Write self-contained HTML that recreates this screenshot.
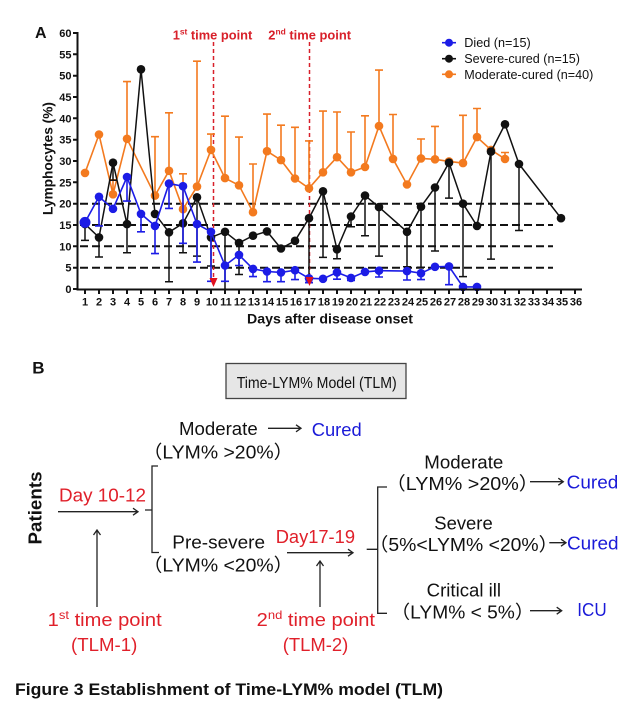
<!DOCTYPE html>
<html><head><meta charset="utf-8"><style>
html,body{margin:0;padding:0;background:#fff;}
svg{display:block;}
text{font-family:"Liberation Sans","Noto Sans CJK SC",sans-serif;}
</style></head><body>
<svg width="640" height="714" viewBox="0 0 640 714" xmlns="http://www.w3.org/2000/svg">
<rect width="640" height="714" fill="#fff"/>
<!-- Panel A -->
<text x="35" y="38" font-size="16" font-weight="bold" fill="#111">A</text>
<!-- dashed reference lines -->
<g stroke="#111" stroke-width="2" stroke-dasharray="8 4" fill="none">
<line x1="80" y1="203.7" x2="553" y2="203.7"/>
<line x1="80" y1="225" x2="553" y2="225"/>
<line x1="80" y1="246.3" x2="553" y2="246.3"/>
<line x1="80" y1="267.7" x2="553" y2="267.7"/>
</g>
<!-- red vertical lines -->
<g stroke="#d8202a" stroke-width="1.5" stroke-dasharray="4 3">
<line x1="213.5" y1="42" x2="213.5" y2="279"/>
<line x1="309.5" y1="42" x2="309.5" y2="278"/>
</g>
<text x="172.7" y="39.5" font-size="13" font-weight="bold" fill="#d8202a" textLength="79.6" lengthAdjust="spacingAndGlyphs">1<tspan dy="-5" font-size="8.5">st</tspan><tspan dy="5"> time point</tspan></text>
<text x="268.3" y="39.5" font-size="13" font-weight="bold" fill="#d8202a" textLength="82.7" lengthAdjust="spacingAndGlyphs">2<tspan dy="-5" font-size="8.5">nd</tspan><tspan dy="5"> time point</tspan></text>

<!-- Orange series -->
<g stroke="#f37a1f" stroke-width="1.6" fill="none">
<polyline points="85,172.9 99,134.5 113,194.3 127,138.8 155,195.6 169,170.8 183,209.2 197,186.6 211,149.9 225,178.1 239,185.3 253,212.2 267,151.2 281,160.1 295,178.5 309,188.3 323,172.3 337,157.2 351,172.3 365,167 379,126 393,158.9 407,184.5 421,158.4 435,159.3 449,161.4 463,163.1 477,137.1 491,149.9 505,158.9"/>
<path d="M113 179.8V194.3M109 179.8H117
M127 81.6V138.8M123 81.6H131
M155 136.7V195.6M151 136.7H159
M169 112.8V170.8M165 112.8H173
M183 173.8V209.2M179 173.8H187
M197 61.2V186.6M193 61.2H201
M211 134.1V149.9M207 134.1H215
M225 116.2V178.1M221 116.2H229
M239 137.1V185.3M235 137.1H243
M253 164V212.2M249 164H257
M267 114.1V151.2M263 114.1H271
M281 125.2V160.1M277 125.2H285
M295 127.3V178.5M291 127.3H299
M309 140.9V188.3M305 140.9H313
M323 111.1V172.3M319 111.1H327
M337 112V157.2M333 112H341
M351 132V172.3M347 132H355
M365 115.8V167M361 115.8H369
M379 70.1V126M375 70.1H383
M393 114.5V158.9M389 114.5H397
M421 139V158.4M417 139H425
M435 126.4V159.3M431 126.4H439
M463 115.3V163.1M459 115.3H467
M477 108.5V137.1M473 108.5H481
M505 152.5V158.9M501 152.5H509"/>
</g>
<g fill="#f37a1f">
<circle cx="85" cy="172.9" r="4.3"/><circle cx="99" cy="134.5" r="4.3"/><circle cx="113" cy="194.3" r="4.3"/><circle cx="127" cy="138.8" r="4.3"/><circle cx="155" cy="195.6" r="4.3"/><circle cx="169" cy="170.8" r="4.3"/><circle cx="183" cy="209.2" r="4.3"/><circle cx="197" cy="186.6" r="4.3"/><circle cx="211" cy="149.9" r="4.3"/><circle cx="225" cy="178.1" r="4.3"/><circle cx="239" cy="185.3" r="4.3"/><circle cx="253" cy="212.2" r="4.3"/><circle cx="267" cy="151.2" r="4.3"/><circle cx="281" cy="160.1" r="4.3"/><circle cx="295" cy="178.5" r="4.3"/><circle cx="309" cy="188.3" r="4.3"/><circle cx="323" cy="172.3" r="4.3"/><circle cx="337" cy="157.2" r="4.3"/><circle cx="351" cy="172.3" r="4.3"/><circle cx="365" cy="167" r="4.3"/><circle cx="379" cy="126" r="4.3"/><circle cx="393" cy="158.9" r="4.3"/><circle cx="407" cy="184.5" r="4.3"/><circle cx="421" cy="158.4" r="4.3"/><circle cx="435" cy="159.3" r="4.3"/><circle cx="449" cy="161.4" r="4.3"/><circle cx="463" cy="163.1" r="4.3"/><circle cx="477" cy="137.1" r="4.3"/><circle cx="491" cy="149.9" r="4.3"/><circle cx="505" cy="158.9" r="4.3"/>
</g>

<!-- Black series -->
<g stroke="#111" stroke-width="1.5" fill="none">
<polyline points="85,224.1 99,237.4 113,162.7 127,224.1 141,69.3 155,213.9 169,232.3 183,223.3 197,197.3 211,237.4 225,231.8 239,242.9 253,235.7 267,231.4 281,248.5 295,240.8 309,218.2 323,191.3 337,249.3 351,216.5 365,195.6 379,207.1 407,231.8 421,206.7 435,187.5 449,162.7 463,203.7 477,225.9 491,151.6 505,124.3 519,164 561,218.2"/>
<path d="M85 224.1V240.4M81 240.4H89
M99 237.4V257M95 257H103
M113 162.7V180.2M109 180.2H117
M127 224.1V252.7M123 252.7H131
M169 232.3V281.7M165 281.7H173
M183 223.3V252.7M179 252.7H187
M197 197.3V256.1M193 256.1H201
M211 237.4V266M207 266H215
M225 231.8V289
M239 242.9V274.5M235 274.5H243
M309 218.2V282.6M305 282.6H313
M323 191.3V257.4M319 257.4H327
M337 249.3V258.7M333 258.7H341
M351 216.5V226.7M347 226.7H355
M365 195.6V235.7M361 235.7H369
M379 207.1V256.1M375 256.1H383
M407 231.8V266.8M403 266.8H411
M421 206.7V267.2M417 267.2H425
M435 187.5V251M431 251H439
M449 162.7V198.1M445 198.1H453
M463 203.7V276.6M459 276.6H467
M491 151.6V259.1M487 259.1H495
M519 164V230.5M515 230.5H523"/>
</g>
<g fill="#111">
<circle cx="85" cy="224.1" r="4.3"/><circle cx="99" cy="237.4" r="4.3"/><circle cx="113" cy="162.7" r="4.3"/><circle cx="127" cy="224.1" r="4.3"/><circle cx="141" cy="69.3" r="4.3"/><circle cx="155" cy="213.9" r="4.3"/><circle cx="169" cy="232.3" r="4.3"/><circle cx="183" cy="223.3" r="4.3"/><circle cx="197" cy="197.3" r="4.3"/><circle cx="211" cy="237.4" r="4.3"/><circle cx="225" cy="231.8" r="4.3"/><circle cx="239" cy="242.9" r="4.3"/><circle cx="253" cy="235.7" r="4.3"/><circle cx="267" cy="231.4" r="4.3"/><circle cx="281" cy="248.5" r="4.3"/><circle cx="295" cy="240.8" r="4.3"/><circle cx="309" cy="218.2" r="4.3"/><circle cx="323" cy="191.3" r="4.3"/><circle cx="337" cy="249.3" r="4.3"/><circle cx="351" cy="216.5" r="4.3"/><circle cx="365" cy="195.6" r="4.3"/><circle cx="379" cy="207.1" r="4.3"/><circle cx="407" cy="231.8" r="4.3"/><circle cx="421" cy="206.7" r="4.3"/><circle cx="435" cy="187.5" r="4.3"/><circle cx="449" cy="162.7" r="4.3"/><circle cx="463" cy="203.7" r="4.3"/><circle cx="477" cy="225.9" r="4.3"/><circle cx="491" cy="151.6" r="4.3"/><circle cx="505" cy="124.3" r="4.3"/><circle cx="519" cy="164" r="4.3"/><circle cx="561" cy="218.2" r="4.3"/>
</g>

<!-- Blue series -->
<g stroke="#1c1ce6" stroke-width="1.6" fill="none">
<polyline points="85,222.4 99,196.8 113,208.8 127,177 141,213.9 155,225.9 169,183.6 183,186.2 197,224.1 211,231.8 225,265.5 239,254.9 253,268.9 267,271.5 281,272.4 295,270.2 309,278.3 323,278.8 337,272.4 351,277.9 365,271.9 379,270.7 407,271.1 421,273.2 435,266.8 449,266.4 463,286.9 477,286.9"/>
<path d="M99 196.8V225.9M95 225.9H103
M127 177V201.1M123 201.1H131
M141 213.9V231.8M137 231.8H145
M155 225.9V253.6M151 253.6H159
M169 183.6V208.4M165 208.4H173
M183 186.2V243.3M179 243.3H187
M197 224.1V262.1M193 262.1H201
M211 231.8V281.3M207 281.3H215
M225 265.5V281.3M221 281.3H229
M239 254.9V265.5M235 265.5H243
M253 268.9V276.6M249 276.6H257
M267 271.5V281.7M263 281.7H271
M281 272.4V281.7M277 281.7H285
M295 270.2V279.6M291 279.6H299
M309 278.3V282.6M305 282.6H313
M337 272.4V279.2M333 279.2H341
M351 277.9V280.5M347 280.5H355
M379 270.7V277M375 277H383
M407 271.1V280M403 280H411
M421 273.2V279.6M417 279.6H425
M449 266.4V284.7M445 284.7H453"/>
</g>
<g fill="#1c1ce6">
<circle cx="85" cy="222.4" r="5.5"/><circle cx="99" cy="196.8" r="4.3"/><circle cx="113" cy="208.8" r="4.3"/><circle cx="127" cy="177" r="4.3"/><circle cx="141" cy="213.9" r="4.3"/><circle cx="155" cy="225.9" r="4.3"/><circle cx="169" cy="183.6" r="4.3"/><circle cx="183" cy="186.2" r="4.3"/><circle cx="197" cy="224.1" r="4.3"/><circle cx="211" cy="231.8" r="4.3"/><circle cx="225" cy="265.5" r="4.3"/><circle cx="239" cy="254.9" r="4.3"/><circle cx="253" cy="268.9" r="4.3"/><circle cx="267" cy="271.5" r="4.3"/><circle cx="281" cy="272.4" r="4.3"/><circle cx="295" cy="270.2" r="4.3"/><circle cx="309" cy="278.3" r="4.3"/><circle cx="323" cy="278.8" r="4.3"/><circle cx="337" cy="272.4" r="4.3"/><circle cx="351" cy="277.9" r="4.3"/><circle cx="365" cy="271.9" r="4.3"/><circle cx="379" cy="270.7" r="4.3"/><circle cx="407" cy="271.1" r="4.3"/><circle cx="421" cy="273.2" r="4.3"/><circle cx="435" cy="266.8" r="4.3"/><circle cx="449" cy="266.4" r="4.3"/><circle cx="463" cy="286.9" r="4.3"/><circle cx="477" cy="286.9" r="4.3"/>
</g>
<polygon points="209.5,278 217.5,278 213.5,287" fill="#e0101e"/>
<polygon points="305.5,277 313.5,277 309.5,286" fill="#e0101e"/>

<!-- Axes -->
<g stroke="#111" stroke-width="2" fill="none">
<line x1="77.5" y1="32" x2="77.5" y2="290"/>
<line x1="76.5" y1="289.5" x2="582" y2="289.5"/>
<path d="M73 33H77M73 54.3H77M73 75.7H77M73 97H77M73 118.3H77M73 139.7H77M73 161H77M73 182.3H77M73 203.7H77M73 225H77M73 246.3H77M73 267.7H77M73 289H77"/>
<path d="M85 289V294M99 289V294M113 289V294M127 289V294M141 289V294M155 289V294M169 289V294M183 289V294M197 289V294M211 289V294M225 289V294M239 289V294M253 289V294M267 289V294M281 289V294M295 289V294M309 289V294M323 289V294M337 289V294M351 289V294M365 289V294M379 289V294M393 289V294M407 289V294M421 289V294M435 289V294M449 289V294M463 289V294M477 289V294M491 289V294M505 289V294M519 289V294M533 289V294M547 289V294M561 289V294M575 289V294"/>
</g>
<g font-size="11" font-weight="bold" fill="#111" text-anchor="end">
<text x="71.5" y="37">60</text><text x="71.5" y="58.3">55</text><text x="71.5" y="79.7">50</text><text x="71.5" y="101">45</text><text x="71.5" y="122.3">40</text><text x="71.5" y="143.7">35</text><text x="71.5" y="165">30</text><text x="71.5" y="186.3">25</text><text x="71.5" y="207.7">20</text><text x="71.5" y="229">15</text><text x="71.5" y="250.3">10</text><text x="71.5" y="271.7">5</text><text x="71.5" y="293">0</text>
</g>
<g font-size="11" font-weight="bold" fill="#111" text-anchor="middle">
<text x="85" y="305.7">1</text><text x="99" y="305.7">2</text><text x="113" y="305.7">3</text><text x="127" y="305.7">4</text><text x="141" y="305.7">5</text><text x="155" y="305.7">6</text><text x="169" y="305.7">7</text><text x="183" y="305.7">8</text><text x="197" y="305.7">9</text><text x="212" y="305.7">10</text><text x="226" y="305.7">11</text><text x="240" y="305.7">12</text><text x="254" y="305.7">13</text><text x="268" y="305.7">14</text><text x="282" y="305.7">15</text><text x="296" y="305.7">16</text><text x="310" y="305.7">17</text><text x="324" y="305.7">18</text><text x="338" y="305.7">19</text><text x="352" y="305.7">20</text><text x="366" y="305.7">21</text><text x="380" y="305.7">22</text><text x="394" y="305.7">23</text><text x="408" y="305.7">24</text><text x="422" y="305.7">25</text><text x="436" y="305.7">26</text><text x="450" y="305.7">27</text><text x="464" y="305.7">28</text><text x="478" y="305.7">29</text><text x="492" y="305.7">30</text><text x="506" y="305.7">31</text><text x="520" y="305.7">32</text><text x="534" y="305.7">33</text><text x="548" y="305.7">34</text><text x="562" y="305.7">35</text><text x="576" y="305.7">36</text>
</g>
<text x="247" y="323.3" font-size="14" font-weight="bold" fill="#111" textLength="166" lengthAdjust="spacingAndGlyphs">Days after disease onset</text>
<text transform="translate(52.5,158.5) rotate(-90)" x="0" y="0" text-anchor="middle" font-size="14" font-weight="bold" fill="#111" textLength="113" lengthAdjust="spacingAndGlyphs">Lymphocytes (%)</text>

<!-- Legend -->
<g stroke-width="1.6">
<line x1="442" y1="42.7" x2="456" y2="42.7" stroke="#1c1ce6"/><circle cx="449" cy="42.7" r="4" fill="#1c1ce6"/>
<line x1="442" y1="58.7" x2="456" y2="58.7" stroke="#111"/><circle cx="449" cy="58.7" r="4" fill="#111"/>
<line x1="442" y1="74.3" x2="456" y2="74.3" stroke="#f37a1f"/><circle cx="449" cy="74.3" r="4" fill="#f37a1f"/>
</g>
<g font-size="12.5" fill="#111">
<text x="464.3" y="47.2" textLength="66.4" lengthAdjust="spacingAndGlyphs">Died (n=15)</text>
<text x="464.3" y="63.2" textLength="115.7" lengthAdjust="spacingAndGlyphs">Severe-cured (n=15)</text>
<text x="464.3" y="78.8" textLength="129" lengthAdjust="spacingAndGlyphs">Moderate-cured (n=40)</text>
</g>

<!-- Panel B -->
<text x="32.3" y="373.3" font-size="17" font-weight="bold" fill="#111">B</text>
<rect x="226" y="363.5" width="180" height="35" fill="#e6e6e6" stroke="#444" stroke-width="1.3"/>
<text x="236.7" y="387.8" font-size="16" fill="#111" textLength="160" lengthAdjust="spacingAndGlyphs">Time-LYM% Model (TLM)</text>

<g font-size="18.5" fill="#111">
<text x="179" y="435" textLength="78.7" lengthAdjust="spacingAndGlyphs">Moderate</text>
<text x="143" y="458.3" textLength="150" lengthAdjust="spacingAndGlyphs">（LYM% &gt;20%）</text>
<text x="172.3" y="548.3" textLength="92.7" lengthAdjust="spacingAndGlyphs">Pre-severe</text>
<text x="143" y="571.7" textLength="150" lengthAdjust="spacingAndGlyphs">（LYM% &lt;20%）</text>
<text x="424.3" y="468.3" textLength="79" lengthAdjust="spacingAndGlyphs">Moderate</text>
<text x="386" y="490" textLength="152.5" lengthAdjust="spacingAndGlyphs">（LYM% &gt;20%）</text>
<text x="434.3" y="529.3" textLength="58.4" lengthAdjust="spacingAndGlyphs">Severe</text>
<text x="369" y="551" textLength="189" lengthAdjust="spacingAndGlyphs">（5%&lt;LYM% &lt;20%）</text>
<text x="426.7" y="596.7" textLength="74.3" lengthAdjust="spacingAndGlyphs">Critical ill</text>
<text x="391" y="618.3" textLength="143" lengthAdjust="spacingAndGlyphs">（LYM% &lt; 5%）</text>
</g>
<g font-size="18.5" fill="#1a1ad8">
<text x="311.7" y="436" textLength="50" lengthAdjust="spacingAndGlyphs">Cured</text>
<text x="566.7" y="488.3" textLength="51.6" lengthAdjust="spacingAndGlyphs">Cured</text>
<text x="567" y="549.3" textLength="51.6" lengthAdjust="spacingAndGlyphs">Cured</text>
<text x="577.3" y="616" textLength="29.4" lengthAdjust="spacingAndGlyphs">ICU</text>
</g>
<g font-size="18.5" fill="#e0202a">
<text x="59" y="501.7" textLength="87" lengthAdjust="spacingAndGlyphs">Day 10-12</text>
<text x="275.7" y="543" textLength="79.3" lengthAdjust="spacingAndGlyphs">Day17-19</text>
<text x="47.7" y="626" textLength="114" lengthAdjust="spacingAndGlyphs">1<tspan dy="-7" font-size="12">st</tspan><tspan dy="7"> time point</tspan></text>
<text x="71" y="651" textLength="66.3" lengthAdjust="spacingAndGlyphs">(TLM-1)</text>
<text x="256.7" y="626" textLength="118.3" lengthAdjust="spacingAndGlyphs">2<tspan dy="-7" font-size="12">nd</tspan><tspan dy="7"> time point</tspan></text>
<text x="282.7" y="651" textLength="65.6" lengthAdjust="spacingAndGlyphs">(TLM-2)</text>
</g>
<text transform="translate(41.5,508) rotate(-90)" x="0" y="0" text-anchor="middle" font-size="18.5" font-weight="bold" fill="#111" textLength="73" lengthAdjust="spacingAndGlyphs">Patients</text>

<g stroke="#222" stroke-width="1.3" fill="none">
<!-- arrows -->
<path d="M268 428.3H301M296 424.8L301 428.3L296 431.8"/>
<path d="M58 511.7H138M133 508.2L138 511.7L133 515.2"/>
<path d="M97 607V530M93.5 535L97 530L100.5 535"/>
<path d="M287 552.7H353M348 549.2L353 552.7L348 556.2"/>
<path d="M320 607V561M316.5 566L320 561L323.5 566"/>
<path d="M530 481.7H563.3M558.3 478.2L563.3 481.7L558.3 485.2"/>
<path d="M549.3 542.7H566M561 539.2L566 542.7L561 546.2"/>
<path d="M530 610.7H561.7M556.7 607.2L561.7 610.7L556.7 614.2"/>
<!-- bracket 1 -->
<path d="M158 466H152V552.5H159M145 510H152"/>
<!-- bracket 2 -->
<path d="M387 487H377.7V613.3H387M366.7 549.3H377.7"/>
</g>

<text x="15" y="695" font-size="16.5" font-weight="bold" fill="#111" textLength="428" lengthAdjust="spacingAndGlyphs">Figure 3 Establishment of Time-LYM% model (TLM)</text>
</svg>
</body></html>
